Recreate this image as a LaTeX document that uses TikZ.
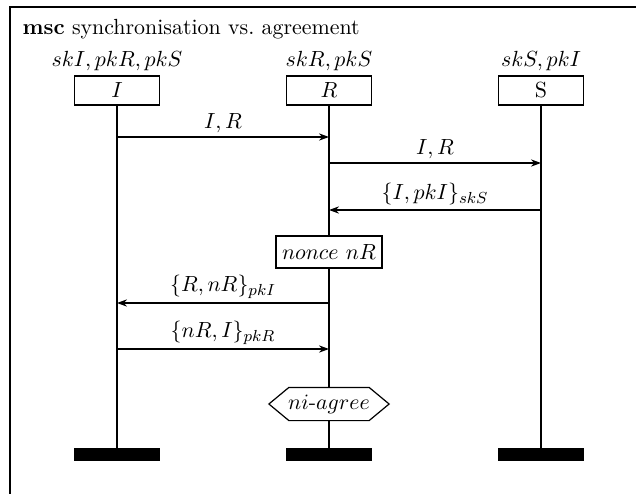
\documentclass[tikz,border=0pt,11pt]{standalone}
\usetikzlibrary{arrows.meta}
\begin{document}
\begin{tikzpicture}[x=0.5pt,y=-0.5pt,
  line width=0.6pt,
  inst/.style={draw,fill=white,minimum width=42.5pt,minimum height=14.5pt,inner sep=0pt},
  endbar/.style={draw,fill=black,minimum width=42.5pt,minimum height=5.5pt,inner sep=0pt},
  act/.style={draw,fill=white,inner sep=0pt,minimum width=53pt,minimum height=16pt},
  cond/.style={inner sep=0pt,minimum width=39.5pt,minimum height=16pt},
  msg/.style={-{Stealth[length=5pt,width=3.6pt,inset=1.6pt]}},
  lbl/.style={above,inner sep=2pt}]
\useasboundingbox (0,0) rectangle (636,493);
\draw[line width=0.9pt] (10,7) rectangle (660,520);
\node[anchor=base west,inner sep=0pt] (title) at (22,34) {\textbf{msc} synchronisation vs.\ agreement};
% instances
\node[inst] (I) at (117,90.5) {$I$};
\node[inst] (R) at (329,90.5) {$R$};
\node[inst] (S) at (541,90.5) {S};
\node[above,inner sep=2pt] (Ik) at (I.north) {$skI, pkR, pkS$};
\node[above,inner sep=2pt] (Rk) at (R.north) {$skR, pkS$};
\node[above,inner sep=2pt] (Sk) at (S.north) {$skS, pkI$};
% end bars
\node[endbar] (Ie) at (117,454.5) {};
\node[endbar] (Re) at (329,454.5) {};
\node[endbar] (Se) at (541,454.5) {};
% action and condition
\node[act] (nonce) at (329,252) {$nonce\ nR$};
\node[cond] (agree) at (329,404) {};
\draw[fill=white] ([xshift=-10pt]agree.west) -- (agree.north west) -- (agree.north east)
  -- ([xshift=10pt]agree.east) -- (agree.south east) -- (agree.south west) -- cycle;
\node[cond] (agreetext) at (agree) {$ni$-$agree$};
% lifelines
\draw (I.south) -- (Ie.north);
\draw (S.south) -- (Se.north);
\draw (R.south) -- (nonce.north);
\draw (nonce.south) -- (agree.north);
\draw (agree.south) -- (Re.north);
% message points
\coordinate (a1) at (117,137); \coordinate (b1) at (329,137);
\coordinate (a2) at (329,163); \coordinate (b2) at (541,163);
\coordinate (a3) at (541,210); \coordinate (b3) at (329,210);
\coordinate (a4) at (329,303); \coordinate (b4) at (117,303);
\coordinate (a5) at (117,349); \coordinate (b5) at (329,349);
\draw[msg] (a1) -- node[lbl] {$I, R$} (b1);
\draw[msg] (a2) -- node[lbl] {$I, R$} (b2);
\draw[msg] (a3) -- node[lbl] {$\{I, pkI\}_{skS}$} (b3);
\draw[msg] (a4) -- node[lbl] {$\{R, nR\}_{pkI}$} (b4);
\draw[msg] (a5) -- node[lbl] {$\{nR, I\}_{pkR}$} (b5);
\end{tikzpicture}
\end{document}
